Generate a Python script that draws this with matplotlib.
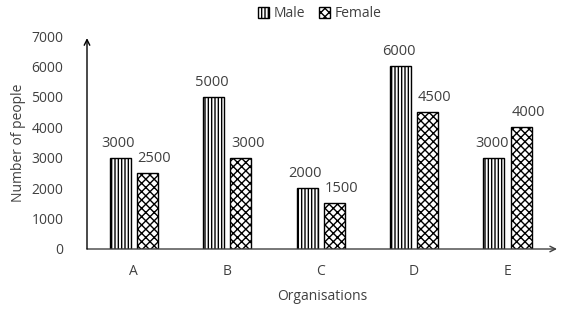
import matplotlib.pyplot as plt
import numpy as np

plt.rcParams['font.family'] = ['Open Sans', 'DejaVu Sans']
plt.rcParams['hatch.linewidth'] = 1.0

orgs = ['A', 'B', 'C', 'D', 'E']
male = [3000, 5000, 2000, 6000, 3000]
female = [2500, 3000, 1500, 4500, 4000]

fig = plt.figure(figsize=(5.68, 3.14), dpi=100)
ax = fig.add_axes([87 / 568, 1 - 249 / 314, 470 / 568, 213 / 314])

x = np.arange(len(orgs))
w = 0.225
off = 0.145
b1 = ax.bar(x - off, male, w, color='white', edgecolor='black', linewidth=1, hatch='|||||', label='Male')
b2 = ax.bar(x + off, female, w, color='white', edgecolor='black', linewidth=1, hatch='xxxx', label='Female')

# value labels, female ones sit a bit to the right like in the original
for bars, vals, dx in ((b1, male, -1.5), (b2, female, 5)):
    for b, v in zip(bars, vals):
        ax.annotate(str(v), (b.get_x() + b.get_width() / 2, v), xytext=(dx, 5),
                    textcoords='offset points', ha='center', va='bottom',
                    fontsize=10.5, color='#404040')

ax.set_xlim(-0.5, 4.53)
ax.set_ylim(0, 7000)
ax.set_yticks(range(0, 7001, 1000))
ax.set_xticks(x)
ax.set_xticklabels(orgs)
ax.tick_params(length=0, labelsize=10, colors='#404040')
ax.tick_params(axis='x', pad=11)
ax.tick_params(axis='y', pad=17)
for s in ['top', 'right', 'left', 'bottom']:
    ax.spines[s].set_visible(False)

# axes drawn as arrows
ax.annotate('', xy=(1.0, 0), xytext=(0, 0), xycoords='axes fraction',
            arrowprops=dict(arrowstyle='->', color='#404040', lw=1, shrinkA=0, shrinkB=0))
ax.annotate('', xy=(0, 0.99), xytext=(0, 0), xycoords='axes fraction',
            arrowprops=dict(arrowstyle='->', color='black', lw=1, shrinkA=0, shrinkB=0))

ax.set_xlabel('Organisations', fontsize=10, color='#404040', labelpad=7)
ax.set_ylabel('Number of people', fontsize=10, color='#404040', labelpad=4)

fig.legend(handles=[b1, b2], loc='upper center', bbox_to_anchor=(0.563, 1.02), ncol=2,
           frameon=False, fontsize=10, handlelength=0.8, handleheight=0.8,
           handletextpad=0.3, columnspacing=1.0, labelcolor='#404040')

fig.savefig('out.png', dpi=100)
